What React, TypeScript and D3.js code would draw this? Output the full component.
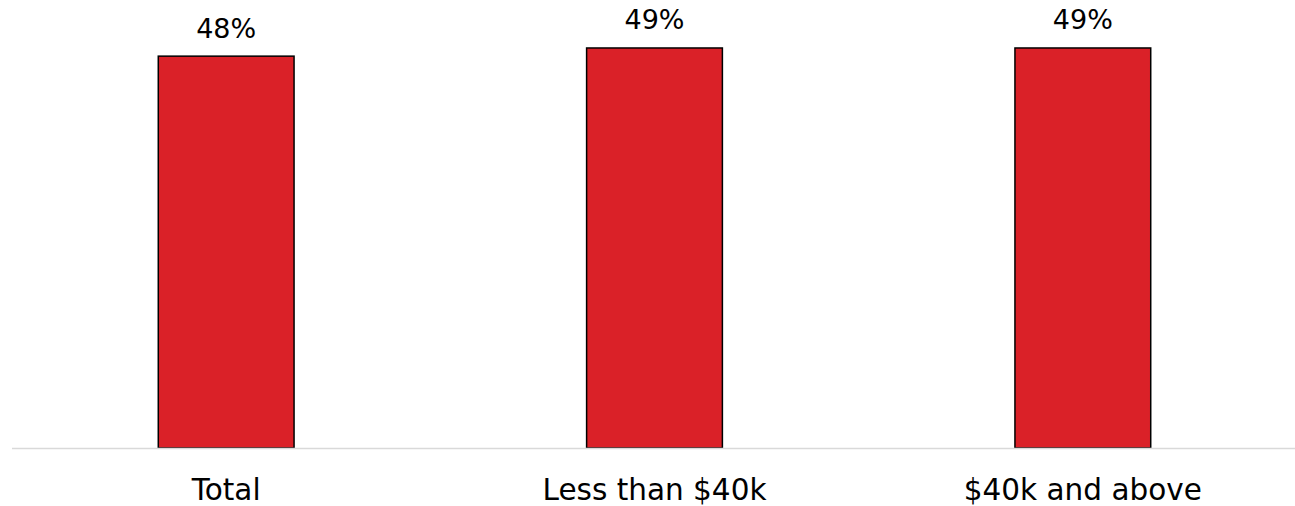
import React from "react";
import * as d3 from "d3";

const categories: string[] = ["Total", "Less than $40k", "$40k and above"];
const values: number[] = [0.48, 0.49, 0.49];

const W = 1295;
const H = 506;
const FONT = "'DejaVu Sans', sans-serif";

export default function App() {
  const x = d3.scaleBand<string>().domain(categories).range([12, 1297]).paddingInner(0.683).paddingOuter(0.3415);
  const y = d3.scaleLinear().domain([0, 0.55]).range([448, -1]);
  const fmt = d3.format(".0%");
  return (
    <svg width={W} height={H} style={{ position: "absolute", left: 0, top: 0, display: "block" }}>
      <rect width={W} height={H} fill="#ffffff" />
      {categories.map((c, i) => (
        <g key={c}>
          <rect
            x={x(c)!}
            y={y(values[i])}
            width={x.bandwidth()}
            height={y(0) - y(values[i])}
            fill="#DA2128"
            stroke="#000000"
            strokeWidth={1.5}
          />
          <text
            x={x(c)! + x.bandwidth() / 2}
            y={y(values[i]) - 18.5}
            textAnchor="middle"
            fontFamily={FONT}
            fontSize={27}
            fill="#000"
          >
            {fmt(values[i])}
          </text>
          <text
            x={x(c)! + x.bandwidth() / 2}
            y={500}
            textAnchor="middle"
            fontFamily={FONT}
            fontSize={29.5}
            fill="#000"
          >
            {c}
          </text>
        </g>
      ))}
      <line x1={12} x2={1295} y1={448.5} y2={448.5} stroke="#D9D9D9" strokeWidth={1.5} />
    </svg>
  );
}
